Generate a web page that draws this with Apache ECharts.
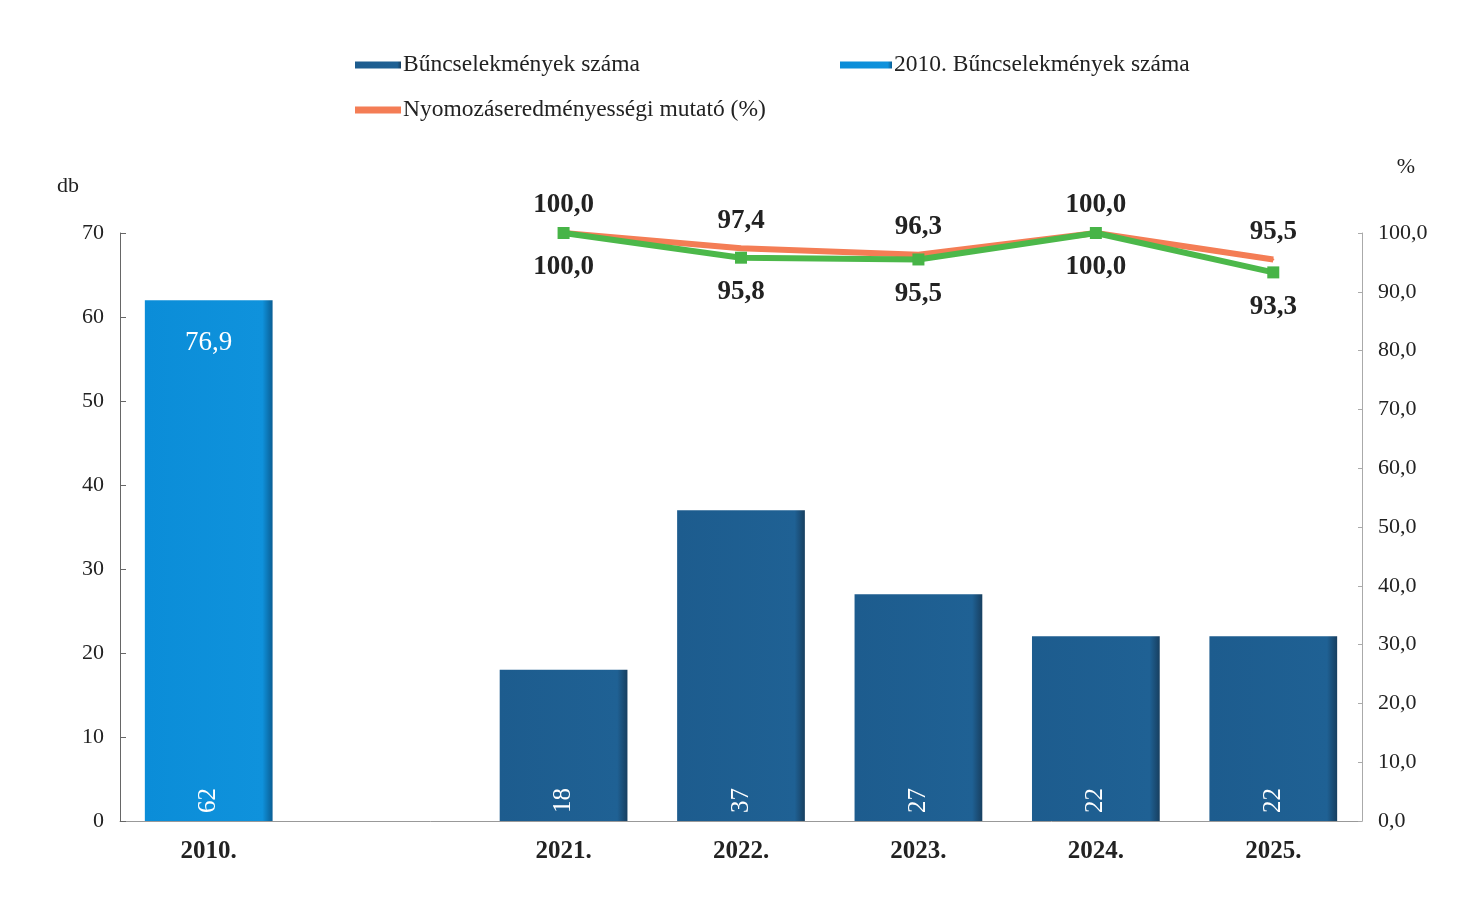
<!DOCTYPE html>
<html>
<head>
<meta charset="utf-8">
<script src="https://cdn.jsdelivr.net/npm/echarts@6/dist/echarts.min.js"></script>
<style>
  html, body { margin: 0; padding: 0; background: #fff; }
  .chart { width: 1466px; height: 910px; }
</style>
</head>
<body>
<div class="chart"></div>
<script>
// adatok
var years = ['2010.', '', '2021.', '2022.', '2023.', '2024.', '2025.'];
var bunFo = [null, null, 18, 37, 27, 22, 22];        // Bűncselekmények száma
var bun2010 = [62, null, null, null, null, null, null]; // 2010. Bűncselekmények száma
var mutato = [null, null, 100, 97.4, 96.3, 100, 95.5]; // Nyomozáseredményességi mutató (%)
var mutato2 = [null, null, 100, 95.8, 95.5, 100, 93.3];
var mutato2010 = [76.9, null, null, null, null, null, null];

var serif = 'Liberation Serif';

function hu(v) {
    return Number(v).toFixed(1).replace('.', ',');
}

function barColor(a, b, c) {
    return {
        type: 'linear', x: 0, y: 0, x2: 1, y2: 0,
        colorStops: [{ offset: 0, color: a }, { offset: 0.92, color: b }, { offset: 1, color: c }]
    };
}

var barLabel = {
    show: true,
    position: 'insideBottom',
    rotate: 90,
    align: 'left',
    verticalAlign: 'middle',
    distance: 8,
    color: '#fff',
    fontFamily: serif,
    fontSize: 25,
    formatter: function(p) { return p.value; }
};

var legendText = { fontFamily: serif, fontSize: 23.5, color: '#222', padding: [0, 0, 0, -3] };

var myChart = echarts.init(document.querySelector('.chart'));
var option = {
    animation: false,
    textStyle: { fontFamily: serif },
    legend: [{
        left: 350, top: 48,
        icon: 'rect', itemWidth: 46, itemHeight: 7,
        data: ['Bűncselekmények száma'],
        textStyle: legendText
    }, {
        left: 835, top: 48,
        icon: 'rect', itemWidth: 52, itemHeight: 7,
        data: ['2010. Bűncselekmények száma'],
        textStyle: legendText
    }, {
        left: 350, top: 93,
        icon: 'rect', itemWidth: 46, itemHeight: 7,
        data: ['Nyomozáseredményességi mutató (%)'],
        textStyle: legendText
    }],
    grid: { left: 120, right: 104, top: 233, bottom: 89 },
    xAxis: {
        type: 'category',
        data: years,
        axisLine: { lineStyle: { color: '#999' } },
        axisTick: { show: false },
        axisLabel: { fontFamily: serif, fontSize: 25, fontWeight: 'bold', color: '#222', margin: 18 }
    },
    yAxis: [{
        type: 'value',
        min: 0, max: 70, interval: 10,
        name: 'db',
        nameGap: 36,
        nameTextStyle: { fontFamily: serif, fontSize: 22, color: '#222', padding: [0, 104, 0, 0] },
        axisLine: { show: true, lineStyle: { color: '#666' } },
        axisTick: { show: true, length: 6, inside: true, lineStyle: { color: '#666' } },
        splitLine: { show: false },
        axisLabel: { fontFamily: serif, fontSize: 22, color: '#222', margin: 16 }
    }, {
        type: 'value',
        min: 0, max: 100, interval: 10,
        name: '%',
        nameGap: 55,
        nameTextStyle: { fontFamily: serif, fontSize: 22, color: '#222', padding: [0, 0, 0, 88] },
        axisLine: { show: true, lineStyle: { color: '#aaa' } },
        axisTick: { show: true, length: 4, inside: true, lineStyle: { color: '#aaa' } },
        splitLine: { show: false },
        axisLabel: { fontFamily: serif, fontSize: 22, color: '#222', margin: 16, formatter: hu }
    }],
    series: [{
        name: 'Bűncselekmények száma',
        type: 'bar',
        stack: 'db',
        barWidth: '72%',
        data: bunFo,
        itemStyle: { color: barColor('#1d5c8e', '#1f6194', '#173f60') },
        label: barLabel
    }, {
        name: '2010. Bűncselekmények száma',
        type: 'bar',
        stack: 'db',
        barWidth: '72%',
        data: bun2010,
        itemStyle: { color: barColor('#0b8dd8', '#0f92dc', '#0a5e94') },
        label: barLabel
    }, {
        name: 'Nyomozáseredményességi mutató (%)',
        type: 'line',
        yAxisIndex: 1,
        data: mutato,
        symbol: 'circle',
        symbolSize: 2,
        itemStyle: { color: '#f47d55' },
        lineStyle: { color: '#f47d55', width: 6 },
        label: {
            show: true, position: 'top', distance: 13,
            fontFamily: serif, fontSize: 27, fontWeight: 'bold', color: '#222',
            formatter: function(p) { return hu(p.value); }
        }
    }, {
        name: 'mutató 2',
        type: 'line',
        yAxisIndex: 1,
        data: mutato2,
        symbol: 'rect',
        symbolSize: 12,
        itemStyle: { color: '#47b447' },
        lineStyle: { color: '#4cb84a', width: 6 },
        label: {
            show: true, position: 'bottom', distance: 15,
            fontFamily: serif, fontSize: 27, fontWeight: 'bold', color: '#222',
            formatter: function(p) { return hu(p.value); }
        }
    }, {
        name: 'mutató 2010',
        type: 'line',
        yAxisIndex: 1,
        data: mutato2010,
        symbol: 'circle',
        symbolSize: 1,
        itemStyle: { color: 'rgba(0,0,0,0)' },
        lineStyle: { width: 0 },
        label: {
            show: true, position: 'top', distance: 12,
            fontFamily: serif, fontSize: 27, color: '#fff',
            formatter: function(p) { return hu(p.value); }
        }
    }]
};
myChart.setOption(option);
</script>
</body>
</html>
